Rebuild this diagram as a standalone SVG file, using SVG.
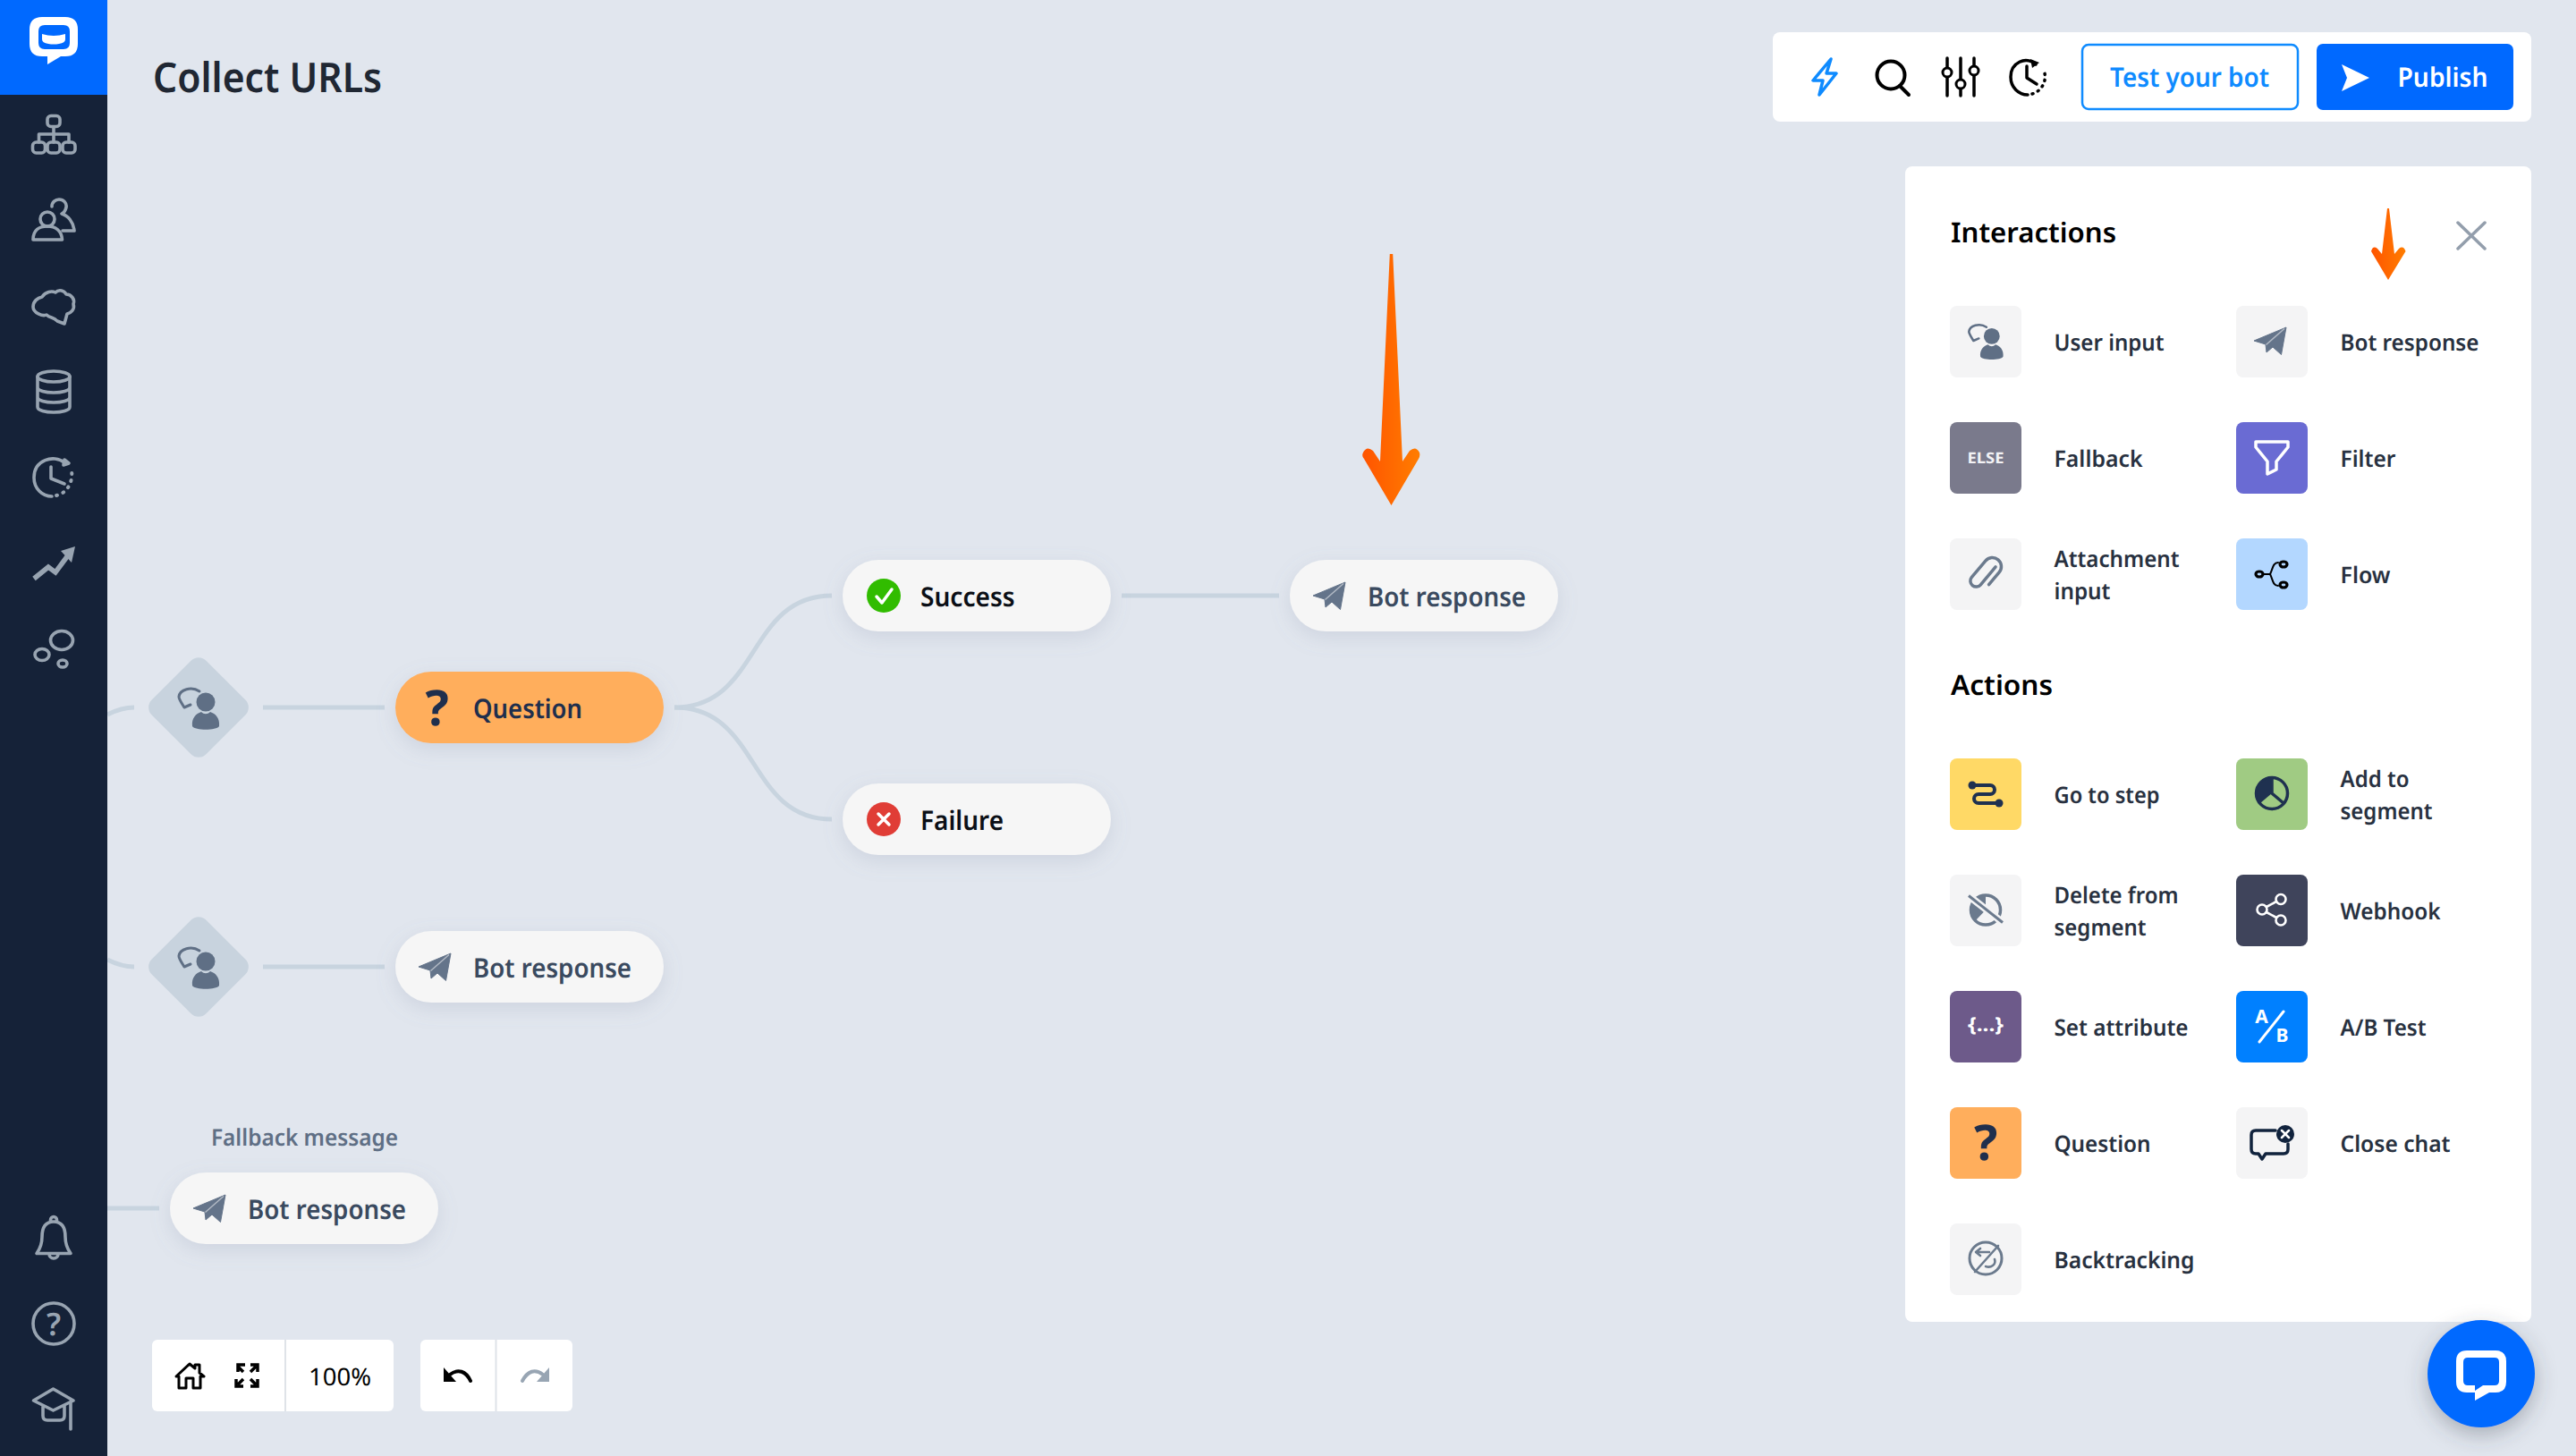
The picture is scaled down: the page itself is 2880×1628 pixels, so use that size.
<svg xmlns="http://www.w3.org/2000/svg" xmlns:xlink="http://www.w3.org/1999/xlink" width="2880" height="1628" viewBox="0 0 2880 1628">
<style>
text{font-family:"Noto Sans","Open Sans",sans-serif;text-rendering:geometricPrecision}
.lab{font-size:25.5px;font-weight:600;fill:#283140}
.pt{font-size:30px;font-weight:600;fill:#3a4a5f}
.pill{fill:#f6f6f6;filter:url(#sh)}
.tile{fill:#f4f4f5}
.side{fill:none;stroke:#98a4b1;stroke-width:3.6;stroke-linecap:round;stroke-linejoin:round}
.conn{fill:none;stroke:#c8d4df;stroke-width:5}
.dia{fill:#c8d3de}
.ic{fill:none;stroke:#6b7a8d;stroke-linecap:round;stroke-linejoin:round}
.dk{fill:none;stroke:#1f3150;stroke-linecap:round;stroke-linejoin:round}
.bk{fill:none;stroke:#000;stroke-linecap:round;stroke-linejoin:round}
.wh{fill:none;stroke:#fff;stroke-linecap:round;stroke-linejoin:round}
.head{font-size:31px;font-weight:600;fill:#000}
</style>
<defs>
<filter id="sh" x="-20%" y="-50%" width="140%" height="220%"><feDropShadow dx="0" dy="7" stdDeviation="11" flood-color="#7f8ba3" flood-opacity=".2"/></filter>
<filter id="shb" x="-30%" y="-30%" width="160%" height="170%"><feDropShadow dx="0" dy="8" stdDeviation="12" flood-color="#3a4250" flood-opacity=".35"/></filter>
<linearGradient id="org" x1="0" y1="0" x2="1" y2="0"><stop offset="0" stop-color="#ff5400"/><stop offset="1" stop-color="#ff7d00"/></linearGradient>
<g id="plane">
<path fill="#64748a" stroke="#64748a" stroke-width="1" stroke-linejoin="round" d="M-18 0L18-15L12.500 15.500L3 7L-4 13L-5 4Z"/>
<path fill="none" stroke="#f4f4f5" stroke-opacity=".55" stroke-width="1.500" d="M16-13.500L-4.500 4.500"/>
</g>
<g id="user">
<circle cx="8" cy="-6" r="10.500" fill="#5f6f85"/>
<path fill="#5f6f85" d="M-7 21C-8 12-3 7 3 5C6 8 10 8 13 5C19 7 24 12 23 21C20 26-4 26-7 21Z"/>
<path fill="none" stroke="#5f6f85" stroke-width="3" stroke-linecap="round" stroke-linejoin="round" d="M1-18C-8-24-21-20-22-12C-22-9-19-5-16 0L-9-3"/>
</g>
</defs>
<rect width="2880" height="1628" fill="#e1e6ee"/>
<g id="connectors">
<path class="conn" d="M120 799C130 794 138 791 150 791"/>
<path class="conn" d="M294 791H430"/>
<path class="conn" d="M754 791C850 791 835 666 930 666"/>
<path class="conn" d="M754 791C850 791 835 916 930 916"/>
<path class="conn" d="M1254 666H1430"/>
<path class="conn" d="M120 1073C130 1078 138 1081 150 1081"/>
<path class="conn" d="M294 1081H430"/>
<path class="conn" d="M120 1351H178"/>
</g>
<g id="sidebar">
<rect width="120" height="1628" fill="#152238"/>
<rect width="120" height="106" fill="#0069ff"/>
<g id="logo">
<path fill="#fff" fill-rule="evenodd" d="M47 19H73Q87 19 87 33V49Q87 63 73 63H68L53 72V63H47Q33 63 33 49V33Q33 19 47 19ZM50 28Q43 28 43 35V48Q43 55 50 55H71Q78 55 78 48V35Q78 28 71 28Z"/>
<path fill="#fff" d="M47 38Q60 42 73 38V44Q73 48 66 49Q60 50 54 49Q47 48 47 44Z"/>
</g>
<g class="side">
<rect x="53" y="129.500" width="14" height="12" rx="4"/><rect x="36.500" y="159" width="14" height="12" rx="4"/><rect x="53" y="159" width="14" height="12" rx="4"/><rect x="70" y="159" width="14" height="12" rx="4"/>
<path d="M60 142V159M43.500 159V150H77V159"/>
<circle cx="53" cy="245" r="8"/><path d="M37 268C37 257 44 253 53 253C62 253 69 258 69.500 268Z"/>
<path d="M58 231C58 226 62 223 66 223C71 223 75 227 74 232C73 236 71 238 69 239C76 241 82 248 83 258H70"/>
<path d="M37 343C37 337 42 333 47 332C51 326 58 325 62 327C66 323 72 325 74 329C80 329 84 335 82 340C84 346 79 350 75 351L72 362L64 359C60 354 56 356 52 352C48 354 37 350 37 343Z"/>
<ellipse cx="60" cy="421" rx="18" ry="6"/><path d="M42 421V455C42 463 78 463 78 455V421M42 433C42 441 78 441 78 433M42 444C42 452 78 452 78 444"/>
<path d="M72 517C60 508 38 514 38 534C38 546 47 555 58 555M57 522V535L72 541"/>
<path stroke-dasharray="1 7" stroke-width="4" d="M63 554C74 552 82 540 80 526"/>
<path d="M72 514L77 518L71 520Z"/>
<path stroke-width="5.500" stroke-linecap="butt" stroke-linejoin="miter" d="M38 647L54 634L62 640L76 621"/>
<path fill="#98a4b1" stroke="none" d="M84 611L68 616L80 629Z"/>
<ellipse cx="69" cy="716" rx="12.500" ry="10.500"/><ellipse cx="47" cy="732" rx="8" ry="6.500"/><ellipse cx="70" cy="742" rx="5" ry="4"/>
<path d="M60 1366C50 1366 47 1374 47 1383C47 1391 45 1396 41 1401.500H79C75 1396 73 1391 73 1383C73 1374 70 1366 60 1366ZM56.500 1366V1364A3.500 3.500 0 1 1 63.500 1364V1366M55 1402A5 5 0 0 0 65 1402"/>
<circle cx="60" cy="1480" r="23"/>
<path d="M37.500 1566L59.500 1553L82 1566L59.500 1577ZM48 1572V1583Q48 1588 53 1588H67Q72 1588 72 1583V1572M79 1567V1598"/>
</g>
<text x="60" y="1493" text-anchor="middle" font-size="35" font-weight="600" fill="#98a4b1">?</text>
</g>
<text id="title" x="171" y="102.500" font-size="46" font-weight="600" fill="#202733" textLength="256" lengthAdjust="spacingAndGlyphs">Collect URLs</text>
<g id="toolbar-top">
<rect x="1982" y="36" width="848" height="100" rx="8" fill="#fff"/>
<path fill="none" stroke="#0f8bff" stroke-width="3.500" stroke-linejoin="round" d="M2047 66L2027 90H2038L2034 106L2053 82H2042Z"/>
<circle cx="2114" cy="84" r="15.500" class="bk" stroke-width="4"/><path class="bk" stroke-width="4" d="M2124 96L2134 106"/>
<path class="bk" stroke-width="3.500" d="M2177 65V75M2177 87V107M2192 65V88M2192 100V107M2207 65V73M2207 85V107"/>
<circle class="bk" stroke-width="3" cx="2177" cy="81" r="5"/><circle class="bk" stroke-width="3" cx="2192" cy="94" r="5"/><circle class="bk" stroke-width="3" cx="2207" cy="79" r="5"/>
<path class="bk" stroke-width="3.500" d="M2276 72C2265 62 2248 70 2248 86C2248 98 2257 106 2267 106M2266 74V87L2277 94"/>
<path class="bk" stroke-width="3.500" stroke-dasharray="1 6" d="M2272 105C2282 102 2288 92 2286 82"/>
<path fill="#000" d="M2270 66L2280 70L2272 76Z"/>
<rect x="2328" y="50" width="241" height="72" rx="7" fill="#fff" stroke="#0f8bff" stroke-width="2.500"/>
<text x="2359" y="97" font-size="30" font-weight="600" fill="#0f8bff" textLength="178" lengthAdjust="spacingAndGlyphs">Test your bot</text>
<rect x="2590" y="49" width="220" height="74" rx="7" fill="#0069ff"/>
<path fill="#fff" d="M2618 72L2649 87L2618 102L2624 87Z"/>
<text x="2680.500" y="97" font-size="30" font-weight="600" fill="#fff" textLength="101" lengthAdjust="spacingAndGlyphs">Publish</text>
</g>
<g id="node-diamond-1">
<rect class="dia" x="179" y="748" width="86" height="86" rx="12" transform="rotate(45 222 791)"/>
<use xlink:href="#user" href="#user" x="222" y="791"/>
</g>
<g id="node-question">
<rect class="pill" x="442" y="751" width="300" height="80" rx="40" style="fill:#ffae5c"/>
<text x="488.500" y="811" text-anchor="middle" font-size="55" font-weight="700" fill="#1f2f4d">?</text>
<text x="529" y="803" class="pt" style="fill:#1f2f4d" textLength="122" lengthAdjust="spacingAndGlyphs">Question</text>
</g>
<g id="node-success">
<rect class="pill" x="942" y="626" width="300" height="80" rx="40"/>
<circle cx="988" cy="666" r="19" fill="#31bc00"/>
<path fill="none" stroke="#fff" stroke-width="3.500" stroke-linecap="round" stroke-linejoin="round" d="M980 667L986 674L997 659"/>
<text x="1029" y="678" class="pt" style="fill:#0b0f16" textLength="105.600" lengthAdjust="spacingAndGlyphs">Success</text>
</g>
<g id="node-failure">
<rect class="pill" x="942" y="876" width="300" height="80" rx="40"/>
<circle cx="988" cy="916" r="19" fill="#e03d36"/>
<path fill="none" stroke="#fff" stroke-width="3.500" stroke-linecap="round" d="M982 910L994 922M994 910L982 922"/>
<text x="1029" y="928" class="pt" style="fill:#0b0f16" textLength="93" lengthAdjust="spacingAndGlyphs">Failure</text>
</g>
<g id="node-bot-top">
<rect class="pill" x="1442" y="626" width="300" height="80" rx="40"/>
<use xlink:href="#plane" href="#plane" x="1486" y="666"/>
<text x="1529" y="678" class="pt" textLength="177" lengthAdjust="spacingAndGlyphs">Bot response</text>
</g>
<g id="node-diamond-2">
<rect class="dia" x="179" y="1038" width="86" height="86" rx="12" transform="rotate(45 222 1081)"/>
<use xlink:href="#user" href="#user" x="222" y="1081"/>
</g>
<g id="node-bot-mid">
<rect class="pill" x="442" y="1041" width="300" height="80" rx="40"/>
<use xlink:href="#plane" href="#plane" x="486" y="1081"/>
<text x="529" y="1093" class="pt" textLength="177" lengthAdjust="spacingAndGlyphs">Bot response</text>
</g>
<g id="node-bot-fallback">
<text x="236" y="1281" font-size="26" font-weight="600" fill="#5f6f85" textLength="209" lengthAdjust="spacingAndGlyphs">Fallback message</text>
<rect class="pill" x="190" y="1311" width="300" height="80" rx="40"/>
<use xlink:href="#plane" href="#plane" x="234" y="1351"/>
<text x="277" y="1363" class="pt" textLength="177" lengthAdjust="spacingAndGlyphs">Bot response</text>
</g>
<g id="arrow-large"><path fill="url(#org)" d="M1553.800 284H1557.200L1568 516L1576 504Q1583 498 1587 506Q1588 510 1586 513L1555.500 565L1525 513Q1522 510 1524 506Q1528 498 1535 504L1543 516Z"/></g>
<g id="zoom-controls">
<rect x="170" y="1498" width="270" height="80" rx="6" fill="#fff"/>
<path stroke="#dfe3e8" stroke-width="2" d="M319 1498V1578"/>
<path fill="none" stroke="#000" stroke-width="3" stroke-linejoin="round" d="M197 1539L212 1525L218 1530V1526H223V1535L228 1539H224V1552H216V1541H208V1552H200V1539Z"/>
<path fill="none" stroke="#000" stroke-width="3.500" d="M266 1534V1526H274M280 1526H288V1534M264 1542V1550H272M288 1542V1550H280M266 1528L272 1534M286 1528L280 1534M266 1548L272 1542M286 1548L280 1542" stroke-linejoin="miter"/>
<text x="345" y="1548.500" font-size="27" fill="#000" textLength="70" lengthAdjust="spacingAndGlyphs">100%</text>
<rect x="470" y="1498" width="170" height="80" rx="6" fill="#fff"/>
<path stroke="#dfe3e8" stroke-width="2" d="M554.500 1498V1578"/>
<path fill="none" stroke="#000" stroke-width="4" stroke-linecap="round" d="M503 1537C512 1530 521 1533 526 1544"/>
<path fill="#000" d="M496 1529L510 1545H496Z"/>
<path fill="none" stroke="#98a5b3" stroke-width="4" stroke-linecap="round" d="M607 1537C598 1530 590 1533 584 1544"/>
<path fill="#98a5b3" d="M614 1529L600 1545H614Z"/>
</g>
<g id="panel">
<rect x="2130" y="186" width="700" height="1292" rx="8" fill="#fff"/>
<text x="2181" y="271" class="head" textLength="185" lengthAdjust="spacingAndGlyphs">Interactions</text>
<path fill="none" stroke="#939eac" stroke-width="3.500" stroke-linecap="round" d="M2748 249L2778 278M2778 249L2748 278"/>
<path fill="url(#org)" d="M2669 233H2671L2677 284L2682 278Q2687 274 2689.500 281L2670 313L2651 281Q2653 274 2658 278L2663 284Z"/>
<text x="2181" y="777" class="head" textLength="114" lengthAdjust="spacingAndGlyphs">Actions</text>
</g>
<g id="item-user-input">
<rect class="tile" x="2180" y="342" width="80" height="80" rx="8"/>
<g transform="translate(2220 381) scale(.85)"><use xlink:href="#user" href="#user"/></g>
<text x="2296.500" y="392" class="lab" textLength="123" lengthAdjust="spacingAndGlyphs">User input</text>
</g>
<g id="item-bot-response">
<rect class="tile" x="2500" y="342" width="80" height="80" rx="8"/>
<use xlink:href="#plane" href="#plane" x="2538" y="381"/>
<text x="2616.500" y="392" class="lab" textLength="155" lengthAdjust="spacingAndGlyphs">Bot response</text>
</g>
<g id="item-fallback">
<rect x="2180" y="472" width="80" height="80" rx="8" fill="#7a7a8c"/>
<text x="2220" y="518" text-anchor="middle" font-size="17" font-weight="700" fill="#f2f2f5" textLength="41" lengthAdjust="spacingAndGlyphs">ELSE</text>
<text x="2296.500" y="522" class="lab" textLength="99" lengthAdjust="spacingAndGlyphs">Fallback</text>
</g>
<g id="item-filter">
<rect x="2500" y="472" width="80" height="80" rx="8" fill="#6a6bd3"/>
<path class="wh" stroke-width="3.500" d="M2522 494H2558V500L2545 516V525L2535 530V516L2522 500Z"/>
<text x="2616.500" y="522" class="lab" textLength="62" lengthAdjust="spacingAndGlyphs">Filter</text>
</g>
<g id="item-attachment">
<rect class="tile" x="2180" y="602" width="80" height="80" rx="8"/>
<path class="ic" stroke-width="3.500" transform="translate(2219 642) rotate(40)" d="M4-14V12A6.500 6.500 0 0 1-9 12V-12A10 10 0 0 1 11-12V6"/>
<text x="2296.500" y="634" class="lab" textLength="140" lengthAdjust="spacingAndGlyphs">Attachment</text>
<text x="2296.500" y="670" class="lab" textLength="63" lengthAdjust="spacingAndGlyphs">input</text>
</g>
<g id="item-flow">
<rect x="2500" y="602" width="80" height="80" rx="8" fill="#b3d7ff"/>
<ellipse class="bk" stroke-width="3.200" cx="2526" cy="642" rx="4" ry="3"/><ellipse class="bk" stroke-width="3.200" cx="2553" cy="631" rx="4" ry="3"/><ellipse class="bk" stroke-width="3.200" cx="2553" cy="654" rx="4" ry="3"/>
<path class="bk" stroke-width="2" d="M2547 629C2541 629 2541 636 2538 642C2541 648 2541 655 2547 655M2531 642H2538"/>
<text x="2616.500" y="652" class="lab" textLength="56" lengthAdjust="spacingAndGlyphs">Flow</text>
</g>
<g id="item-go-to-step">
<rect x="2180" y="848" width="80" height="80" rx="8" fill="#ffd966"/>
<path class="dk" stroke-width="4" d="M2205 878H2225A5 5 0 0 1 2225 888H2212A5 5 0 0 0 2212 898H2235"/>
<circle cx="2205" cy="878" r="4.500" fill="#1f3150"/><circle cx="2235" cy="898" r="4.500" fill="#1f3150"/>
<text x="2296.500" y="898" class="lab" textLength="118" lengthAdjust="spacingAndGlyphs">Go to step</text>
</g>
<g id="item-add-segment">
<rect x="2500" y="848" width="80" height="80" rx="8" fill="#a0cb83"/>
<circle class="dk" stroke-width="3.500" cx="2540" cy="887" r="17.500"/>
<path fill="#1f3150" d="M2540 887V870A17 17 0 0 0 2527 898Z"/>
<path class="dk" stroke-width="3.500" d="M2540 870V887L2553 898"/>
<text x="2616.500" y="880" class="lab" textLength="77" lengthAdjust="spacingAndGlyphs">Add to</text>
<text x="2616.500" y="916" class="lab" textLength="103" lengthAdjust="spacingAndGlyphs">segment</text>
</g>
<g id="item-delete-segment">
<rect class="tile" x="2180" y="978" width="80" height="80" rx="8"/>
<circle class="ic" stroke-width="3.500" cx="2220" cy="1017.500" r="16.500"/>
<path fill="#6b7a8d" d="M2220 1017.500V1000A17.500 17.500 0 0 0 2208 1030Z"/>
<path fill="none" stroke="#f4f4f5" stroke-width="8" d="M2199 1000L2241 1033"/>
<path fill="none" stroke="#6b7a8d" stroke-width="3" d="M2201 1001.500L2239 1031.500"/>
<text x="2296.500" y="1010" class="lab" textLength="139" lengthAdjust="spacingAndGlyphs">Delete from</text>
<text x="2296.500" y="1046" class="lab" textLength="103" lengthAdjust="spacingAndGlyphs">segment</text>
</g>
<g id="item-webhook">
<rect x="2500" y="978" width="80" height="80" rx="8" fill="#3f445b"/>
<path class="wh" stroke-width="2.600" d="M2534 1014L2545 1008M2534 1020L2545 1026"/>
<circle class="wh" stroke-width="2.600" cx="2529" cy="1017" r="5.500"/><circle class="wh" stroke-width="2.600" cx="2550" cy="1005.500" r="5.500"/><circle class="wh" stroke-width="2.600" cx="2550" cy="1029" r="5.500"/>
<text x="2616.500" y="1028" class="lab" textLength="112" lengthAdjust="spacingAndGlyphs">Webhook</text>
</g>
<g id="item-set-attribute">
<rect x="2180" y="1108" width="80" height="80" rx="8" fill="#6d5a8a"/>
<text x="2220" y="1153" text-anchor="middle" font-size="22" font-weight="700" fill="#fff" textLength="40" lengthAdjust="spacingAndGlyphs">{...}</text>
<text x="2296.500" y="1158" class="lab" textLength="150" lengthAdjust="spacingAndGlyphs">Set attribute</text>
</g>
<g id="item-ab-test">
<rect x="2500" y="1108" width="80" height="80" rx="8" fill="#0080ff"/>
<text x="2528.500" y="1144" text-anchor="middle" font-size="21" font-weight="700" fill="#fff">A</text>
<text x="2551.500" y="1165" text-anchor="middle" font-size="21" font-weight="700" fill="#fff">B</text>
<path class="wh" stroke-width="3" d="M2553 1131L2526 1165"/>
<text x="2616.500" y="1158" class="lab" textLength="96" lengthAdjust="spacingAndGlyphs">A/B Test</text>
</g>
<g id="item-question">
<rect x="2180" y="1238" width="80" height="80" rx="8" fill="#ffae5c"/>
<text x="2220" y="1297" text-anchor="middle" font-size="55" font-weight="700" fill="#1f2f4d">?</text>
<text x="2296.500" y="1288" class="lab" textLength="108" lengthAdjust="spacingAndGlyphs">Question</text>
</g>
<g id="item-close-chat">
<rect class="tile" x="2500" y="1238" width="80" height="80" rx="8"/>
<path fill="none" stroke="#11233d" stroke-width="3.500" stroke-linejoin="round" stroke-linecap="round" d="M2544 1264H2522Q2517 1264 2517 1269V1285Q2517 1290 2522 1290H2525L2529 1296L2533 1290H2553Q2558 1290 2558 1285V1279"/>
<circle cx="2555" cy="1268" r="10" fill="#11233d"/>
<path fill="none" stroke="#fff" stroke-width="2.500" stroke-linecap="round" d="M2551 1264L2559 1272M2559 1264L2551 1272"/>
<text x="2616.500" y="1288" class="lab" textLength="123" lengthAdjust="spacingAndGlyphs">Close chat</text>
</g>
<g id="item-backtracking">
<rect class="tile" x="2180" y="1368" width="80" height="80" rx="8"/>
<circle class="ic" stroke-width="3" cx="2220" cy="1407" r="18"/>
<path class="ic" stroke-width="2.600" d="M2208 1422L2234 1393M2210 1400H2224M2214 1396L2209 1400L2214 1404M2230 1408C2232 1414 2226 1418 2220 1416"/>
<text x="2296.500" y="1418" class="lab" textLength="157" lengthAdjust="spacingAndGlyphs">Backtracking</text>
</g>
<g id="chat-button">
<circle cx="2774" cy="1536" r="60" fill="#0069ff" filter="url(#shb)"/>
<path fill="#fff" fill-rule="evenodd" d="M2758 1510H2790Q2802 1510 2802 1522V1545Q2802 1557 2790 1557H2783L2767 1566V1557H2758Q2746 1557 2746 1545V1522Q2746 1510 2758 1510ZM2759 1518Q2754 1518 2754 1523V1544Q2754 1549 2759 1549H2767V1555L2776 1549H2789Q2794 1549 2794 1544V1523Q2794 1518 2789 1518Z"/>
</g>
</svg>
